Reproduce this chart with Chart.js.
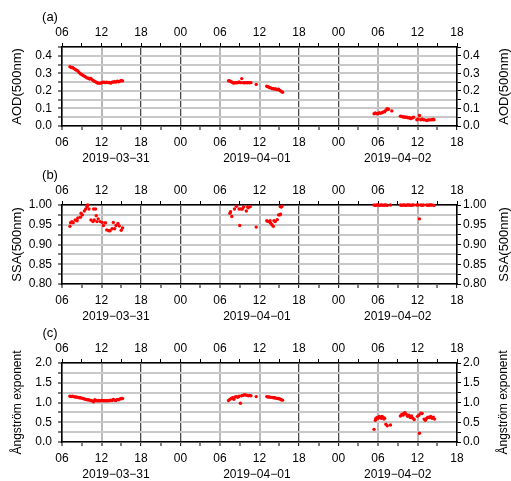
<!DOCTYPE html>
<html>
<head>
<meta charset="utf-8">
<script src="https://cdn.jsdelivr.net/npm/chart.js@4.4.0/dist/chart.umd.min.js"></script>
<style>
  html, body { margin: 0; padding: 0; background: #fff; width: 511px; height: 481px; overflow: hidden; }
  .panel { position: absolute; left: 0; width: 511px; height: 170px; }
</style>
</head>
<body>
<div class="panel" style="top:0px"><canvas id="chartAod" width="511" height="170"></canvas></div>
<div class="panel" style="top:158px"><canvas id="chartSsa" width="511" height="170"></canvas></div>
<div class="panel" style="top:316px"><canvas id="chartAe" width="511" height="170"></canvas></div>
<script>
// time = hours since 2019-03-31 00:00
const dateLabels = ["2019\u221203\u221231", "2019\u221204\u221201", "2019\u221204\u221202"];

// AOD(500nm)
const aodHours = [
  7.2, 7.4, 7.6, 7.8, 8.0, 8.2, 8.4, 8.6, 8.8, 9.0, 9.2, 9.4, 9.6, 9.8, 10.0, 10.2, 10.4, 10.6, 10.8, 11.0,
  11.2, 11.4, 11.6, 11.8, 12.0, 12.2, 12.4, 12.6, 12.8, 13.0, 13.2, 13.4, 13.6, 13.8, 14.0, 14.2, 14.4, 14.6, 14.8, 15.0, 15.2,
  31.3, 31.5, 31.7, 31.9, 32.1, 32.3, 32.5, 32.7, 32.9, 33.1, 33.3, 33.5, 33.7, 33.9, 34.1, 34.3, 34.5, 34.7, 35.5,
  37.1, 37.3, 37.5, 37.7, 37.9, 38.1, 38.3, 38.5, 38.7, 38.9, 39.1, 39.3, 39.5,
  53.4, 53.6, 53.8, 54.0, 54.2, 54.4, 54.6, 54.8, 55.0, 55.2, 55.4, 55.6, 56.1,
  57.4, 57.6, 57.8, 58.0, 58.2, 58.4, 58.6, 58.8, 59.0, 59.2, 59.4, 59.9, 60.1, 60.3, 60.5, 60.7, 60.9,
  61.1, 61.4, 61.6, 61.8, 62.0, 62.2, 62.4, 62.5
];
const aodValues = [
  0.338, 0.333, 0.333, 0.328, 0.322, 0.318, 0.313, 0.305, 0.298, 0.293, 0.288, 0.283, 0.279, 0.274, 0.272, 0.268, 0.271, 0.263, 0.258, 0.253,
  0.249, 0.245, 0.244, 0.244, 0.246, 0.250, 0.249, 0.247, 0.249, 0.247, 0.248, 0.244, 0.250, 0.251, 0.252, 0.250, 0.255, 0.252, 0.255, 0.260, 0.257,
  0.258, 0.256, 0.252, 0.248, 0.244, 0.247, 0.246, 0.247, 0.251, 0.247, 0.270, 0.247, 0.246, 0.247, 0.246, 0.247, 0.246, 0.247, 0.237,
  0.226, 0.224, 0.219, 0.217, 0.214, 0.212, 0.211, 0.211, 0.207, 0.209, 0.202, 0.197, 0.192,
  0.070, 0.075, 0.070, 0.071, 0.076, 0.072, 0.076, 0.080, 0.081, 0.090, 0.099, 0.095, 0.086,
  0.056, 0.055, 0.051, 0.051, 0.050, 0.050, 0.046, 0.047, 0.042, 0.046, 0.050, 0.036, 0.040, 0.060, 0.036, 0.040, 0.035,
  0.035, 0.031, 0.034, 0.035, 0.035, 0.036, 0.039, 0.036
];

// SSA(500nm)
const ssaHours = [
  7.2, 7.3, 7.5, 7.7, 8.0, 8.3, 8.4, 8.8, 8.9, 9.1, 9.4, 9.6, 9.8, 9.9, 10.1, 10.4, 10.7, 10.8, 10.9, 11.1,
  11.2, 11.3, 11.5, 11.8, 12.1, 12.3, 12.6, 12.8, 13.1, 13.3, 13.6, 13.8, 14.0, 14.2, 14.5, 14.7, 15.0, 15.2,
  31.5, 31.6, 31.8, 32.2, 32.5, 32.9, 33.0, 33.2, 33.4, 33.6, 34.0, 34.2, 34.3, 34.6, 35.5,
  37.1, 37.3, 37.6, 37.7, 37.9, 38.1, 38.2, 38.4, 38.7, 38.9, 39.1, 39.2, 39.15, 39.3, 39.4,
  53.4, 53.6, 53.8, 54.0, 54.2, 54.4, 54.6, 54.8, 55.0, 55.2, 55.4, 55.9,
  57.4, 57.6, 57.8, 58.0, 58.2, 58.4, 58.6, 58.8, 59.0, 59.2, 59.4, 59.9, 60.1, 60.3, 60.5, 60.7, 60.9,
  61.4, 61.6, 61.8, 62.0, 62.2, 62.5
];
const ssaValues = [
  0.946, 0.955, 0.958, 0.955, 0.962, 0.960, 0.967, 0.969, 0.979, 0.975, 0.985, 0.990, 0.996, 1.000, 0.990, 0.962, 0.958, 0.990, 0.962, 0.990,
  0.973, 0.958, 0.965, 0.958, 0.956, 0.948, 0.955, 0.937, 0.935, 0.935, 0.940, 0.956, 0.940, 0.948, 0.953, 0.947, 0.936, 0.942,
  0.979, 0.983, 0.971, 0.990, 0.997, 0.990, 0.948, 0.990, 0.990, 0.995, 0.985, 0.995, 0.993, 0.996, 0.944,
  0.960, 0.958, 0.960, 0.954, 0.950, 0.946, 0.960, 0.958, 0.963, 0.975, 0.975, 0.977, 0.996, 0.995, 0.997,
  1.000, 0.999, 1.000, 1.000, 0.999, 1.000, 1.000, 0.999, 1.000, 1.000, 0.999, 1.000,
  1.000, 0.999, 1.000, 1.000, 0.999, 1.000, 1.000, 1.000, 0.999, 1.000, 1.000, 1.000, 1.000, 0.965, 1.000, 0.999, 1.000,
  1.000, 0.999, 1.000, 1.000, 1.000, 0.999
];

// Angstrom exponent
const aeHours = [
  7.2, 7.4, 7.6, 7.8, 8.0, 8.2, 8.4, 8.6, 8.8, 9.0, 9.2, 9.4, 9.6, 9.8, 10.0, 10.2, 10.4, 10.6, 10.8, 11.0,
  11.2, 11.4, 11.6, 11.8, 12.0, 12.2, 12.4, 12.6, 12.8, 13.0, 13.2, 13.4, 13.6, 13.8, 14.0, 14.2, 14.4, 14.6, 14.8, 15.0, 15.2,
  31.3, 31.5, 31.7, 31.9, 32.1, 32.3, 32.5, 32.7, 32.9, 33.1, 33.3, 33.5, 33.7, 33.9, 34.1, 34.3, 34.5, 34.7, 35.5,
  37.1, 37.3, 37.5, 37.7, 37.9, 38.1, 38.3, 38.5, 38.7, 38.9, 39.1, 39.3, 39.5,
  53.4, 53.6, 53.7, 53.9, 54.0, 54.2, 54.3, 54.5, 54.6, 54.8, 54.9, 55.0, 55.2, 55.4, 55.9,
  57.4, 57.6, 57.8, 57.9, 58.1, 58.3, 58.5, 58.7, 58.9, 59.1, 59.3, 59.5, 60.0, 60.2, 60.3, 60.5, 60.7,
  61.0, 61.2, 61.4, 61.6, 61.8, 62.0, 62.2, 62.4, 62.6
];
const aeValues = [
  1.16, 1.15, 1.16, 1.15, 1.14, 1.14, 1.13, 1.12, 1.12, 1.11, 1.10, 1.09, 1.08, 1.07, 1.07, 1.06, 1.05, 1.04, 1.02, 1.07,
  1.05, 1.04, 1.05, 1.04, 1.05, 1.04, 1.05, 1.04, 1.05, 1.04, 1.05, 1.06, 1.05, 1.08, 1.06, 1.05, 1.08, 1.07, 1.09, 1.10, 1.10,
  1.05, 1.08, 1.10, 1.12, 1.08, 1.14, 1.15, 1.13, 1.16, 0.98, 1.17, 1.18, 1.20, 1.19, 1.18, 1.17, 1.18, 1.17, 1.15,
  1.15, 1.14, 1.14, 1.13, 1.13, 1.12, 1.12, 1.11, 1.10, 1.10, 1.09, 1.07, 1.06,
  0.32, 0.55, 0.60, 0.62, 0.60, 0.65, 0.62, 0.60, 0.65, 0.62, 0.58, 0.60, 0.45, 0.41, 0.43,
  0.66, 0.70, 0.68, 0.72, 0.74, 0.70, 0.65, 0.68, 0.62, 0.66, 0.60, 0.57, 0.65, 0.68, 0.22, 0.73, 0.72,
  0.58, 0.55, 0.60, 0.63, 0.62, 0.65, 0.60, 0.63, 0.58
];

Chart.defaults.font.family = '"Liberation Sans", Arial, Helvetica, sans-serif';
Chart.defaults.font.size = 12;
Chart.defaults.color = "#000";

function hourLabel(v) {
  return v % 6 === 0 ? String(v % 24).padStart(2, "0") : "";
}
function isNight(v) {
  const h = v % 24;
  return h === 18 || h === 0;
}

// panel letter, date labels and the right axis title
const panelText = {
  id: "panelText",
  afterDraw(chart, args, o) {
    const ctx = chart.ctx;
    const xs = chart.scales.x;
    const area = chart.chartArea;
    ctx.save();
    ctx.fillStyle = "#000";
    ctx.textAlign = "center";
    ctx.textBaseline = "middle";
    ctx.font = '13px "Liberation Sans", Arial, sans-serif';
    ctx.fillText(o.label, 50, 17.5);
    ctx.font = '12px "Liberation Sans", Arial, sans-serif';
    [14.2, 35.6, 57.0].forEach((h, i) => {
      ctx.fillText(dateLabels[i], xs.getPixelForValue(h), 159);
    });
    ctx.font = o.titleSize + 'px "Liberation Sans", Arial, sans-serif';
    ctx.translate(504, (area.top + area.bottom) / 2);
    ctx.rotate(-Math.PI / 2);
    ctx.fillText(o.title, 0, 0);
    ctx.restore();
  },
};

function makeChart(id, hours, values, yMin, yMax, yStep, labelStep, digits, letter, title, titleSize) {
  const points = hours.map((h, i) => ({ x: h, y: values[i] }));
  const yLabel = (v) => {
    const k = v / labelStep;
    return Math.abs(k - Math.round(k)) < 1e-6 ? v.toFixed(digits) : "";
  };
  const border = { color: "#000", width: 1.5 };
  new Chart(document.getElementById(id), {
    type: "scatter",
    data: {
      datasets: [
        {
          data: points,
          xAxisID: "x",
          yAxisID: "y",
          pointRadius: 1.7,
          pointHoverRadius: 1.7,
          pointBackgroundColor: "#ff0000",
          pointBorderWidth: 0,
          clip: false,
        },
      ],
    },
    options: {
      responsive: false,
      animation: false,
      layout: { padding: 0 },
      plugins: {
        legend: { display: false },
        tooltip: { enabled: false },
        panelText: { label: letter, title: title, titleSize: titleSize },
      },
      scales: {
        x: {
          type: "linear",
          position: "bottom",
          min: 6,
          max: 66,
          ticks: { stepSize: 3, autoSkip: false, maxRotation: 0, callback: hourLabel, padding: 5 },
          grid: {
            color: (c) => (c.tick.value % 6 !== 0 ? "rgba(0,0,0,0)" : isNight(c.tick.value) ? "#4a4a4a" : "#b8b8b8"),
            lineWidth: (c) => (isNight(c.tick.value) ? 1.3 : 2),
            tickColor: "#000",
            tickLength: 4,
            tickWidth: 1,
          },
          border: border,
          afterFit: (s) => { s.height = 44; },
        },
        x2: {
          type: "linear",
          position: "top",
          min: 6,
          max: 66,
          ticks: { stepSize: 3, autoSkip: false, maxRotation: 0, callback: hourLabel, padding: 3 },
          grid: { drawOnChartArea: false, color: "#000", tickLength: 4, tickWidth: 1 },
          border: border,
          afterFit: (s) => { s.height = 47; },
        },
        y: {
          type: "linear",
          position: "left",
          min: yMin,
          max: yMax,
          ticks: { stepSize: yStep, autoSkip: false, callback: yLabel, padding: 6 },
          grid: { color: "#c8c8c8", lineWidth: 2, tickColor: "#000", tickLength: 4, tickWidth: 1 },
          border: border,
          title: { display: true, text: title, font: { size: titleSize }, padding: { top: 10, bottom: 0 } },
          afterFit: (s) => { s.width = 62; },
        },
        y2: {
          type: "linear",
          position: "right",
          min: yMin,
          max: yMax,
          ticks: { stepSize: yStep, autoSkip: false, callback: yLabel, padding: 2 },
          grid: { drawOnChartArea: false, color: "#000", tickLength: 4, tickWidth: 1 },
          border: border,
          afterFit: (s) => { s.width = 54; },
        },
      },
    },
    plugins: [panelText],
  });
}

makeChart("chartAod", aodHours, aodValues, 0, 0.45, 0.05, 0.1, 1, "(a)", "AOD(500nm)", 13);
makeChart("chartSsa", ssaHours, ssaValues, 0.8, 1.0, 0.025, 0.05, 2, "(b)", "SSA(500nm)", 13);
makeChart("chartAe", aeHours, aeValues, 0, 2.0, 0.25, 0.5, 1, "(c)", "\u00c5ngstr\u00f6m exponent", 12);
</script>
</body>
</html>
